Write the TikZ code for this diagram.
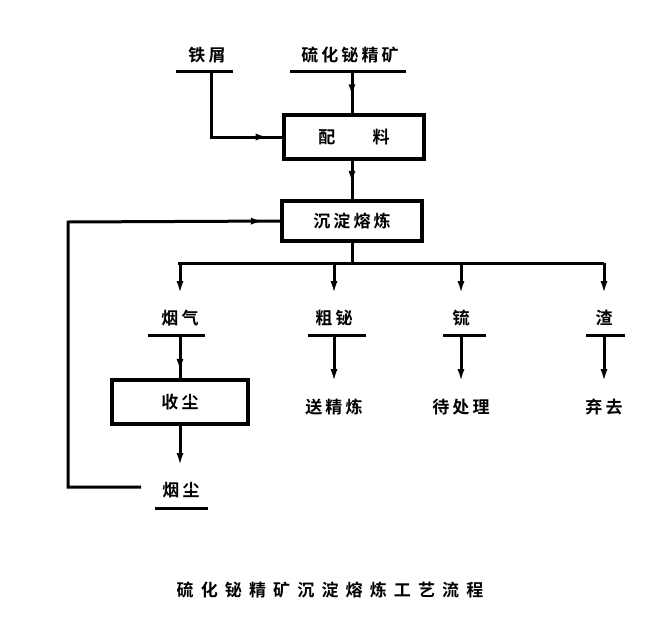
\documentclass[tikz,border=0pt]{standalone}
\usepackage{fontspec}
\newfontfamily\cjk[LetterSpace=18,BoldFont={Noto Sans CJK SC Bold}]{Noto Sans CJK SC}
\newfontfamily\capfont[LetterSpace=42,BoldFont={Noto Sans CJK SC Bold}]{Noto Sans CJK SC}
\usetikzlibrary{arrows.meta,decorations.markings}
\tikzset{
  ln/.style={line width=3pt},
  bx/.style={draw,line width=3.2pt,minimum width=140pt,minimum height=44pt,font=\cjk\bfseries\fontsize{17}{17}\selectfont,inner sep=0pt},
  lbl/.style={font=\cjk\bfseries\fontsize{17}{17}\selectfont,inner sep=0pt},
  tip/.style={-{Latex[length=13pt,width=7pt]}},
  markat/.style={postaction={decorate},decoration={markings,mark=at position #1 with {\arrow{Latex[length=13pt,width=7pt]}}}}
}
\begin{document}
\begin{tikzpicture}[x=1pt,y=-1pt]
\useasboundingbox (0,0) rectangle (672,629);
% top labels
\node[lbl] (tiexie) at (207,55) {铁屑};
\node[lbl] (ore) at (350,55) {硫化铋精矿};
\coordinate (tL) at (176,71); \coordinate (tR) at (233,71); \coordinate (tD) at (211,71);
\coordinate (oL) at (290,71); \coordinate (oR) at (406,71); \coordinate (oD) at (352,71);
\draw[ln] (tL) -- (tR);
\draw[ln] (oL) -- (oR);
% boxes
\node[bx] (pei) at (354,137) {配\hspace{2.2em}料};
\node[bx,minimum height=40pt] (cd) at (352,221) {沉淀熔炼};
\node[bx,minimum width=136pt] (sc) at (180,402) {收尘};
% connectors top
\draw[ln,markat=0.62] (oD) -- (oD |- pei.north);
\draw[ln,markat=0.9] (tD) |- (pei.west);
\draw[ln,markat=0.6] (pei.south -| cd.north) -- (cd.north);
% bus
\coordinate (bus) at (352,263);
\draw[ln] (cd.south) -- (bus);
\draw[ln] (178,263) -- (604,263);
% branch labels
\node[lbl] (yq) at (180,318) {烟气};
\node[lbl] (cb) at (334,318) {粗铋};
\node[lbl] (liu) at (461,318) {锍};
\node[lbl] (zha) at (604,318) {渣};
\coordinate (yqT) at (180,263); \coordinate (cbT) at (334,263); \coordinate (liuT) at (461,263); \coordinate (zhaT) at (604,263);
\coordinate (yqE) at (180,294); \coordinate (cbE) at (334,294); \coordinate (liuE) at (461,294); \coordinate (zhaE) at (604,294);
\foreach \a in {yq,cb,liu,zha}{\draw[ln,tip] (\a T) -- (\a E);}
% underlines
\draw[ln] (148,335) -- (205,335);
\draw[ln] (308,335) -- (366,335);
\draw[ln] (443,335) -- (486,335);
\draw[ln] (586,335) -- (625,335);
% destinations
\node[lbl] (sj) at (334,407) {送精炼};
\node[lbl] (dcl) at (461,407) {待处理};
\node[lbl] (qq) at (604,407) {弃去};
\coordinate (cbU) at (334,335); \coordinate (liuU) at (461,335); \coordinate (zhaU) at (604,335); \coordinate (yqU) at (180,335);
\coordinate (cbB) at (334,382); \coordinate (liuB) at (461,382); \coordinate (zhaB) at (604,382);
\foreach \a in {cb,liu,zha}{\draw[ln,tip] (\a U) -- (\a B);}
\draw[ln,markat=0.85] (yqU) -- (sc.north);
% dust
\node[lbl] (yc) at (181,490) {烟尘};
\coordinate (ycA) at (180,466);
\draw[ln,tip] (sc.south) -- (ycA);
\draw[ln] (155,508) -- (208,508);
\coordinate (ycL) at (141,487);
\draw[ln,markat=0.97] (ycL) -- (68,487) -- (68,222) -- (cd.west);
% caption
\node[font=\capfont\bfseries\fontsize{17}{17}\selectfont,inner sep=0pt] (cap) at (330,590) {硫化铋精矿沉淀熔炼工艺流程};
\end{tikzpicture}
\end{document}
